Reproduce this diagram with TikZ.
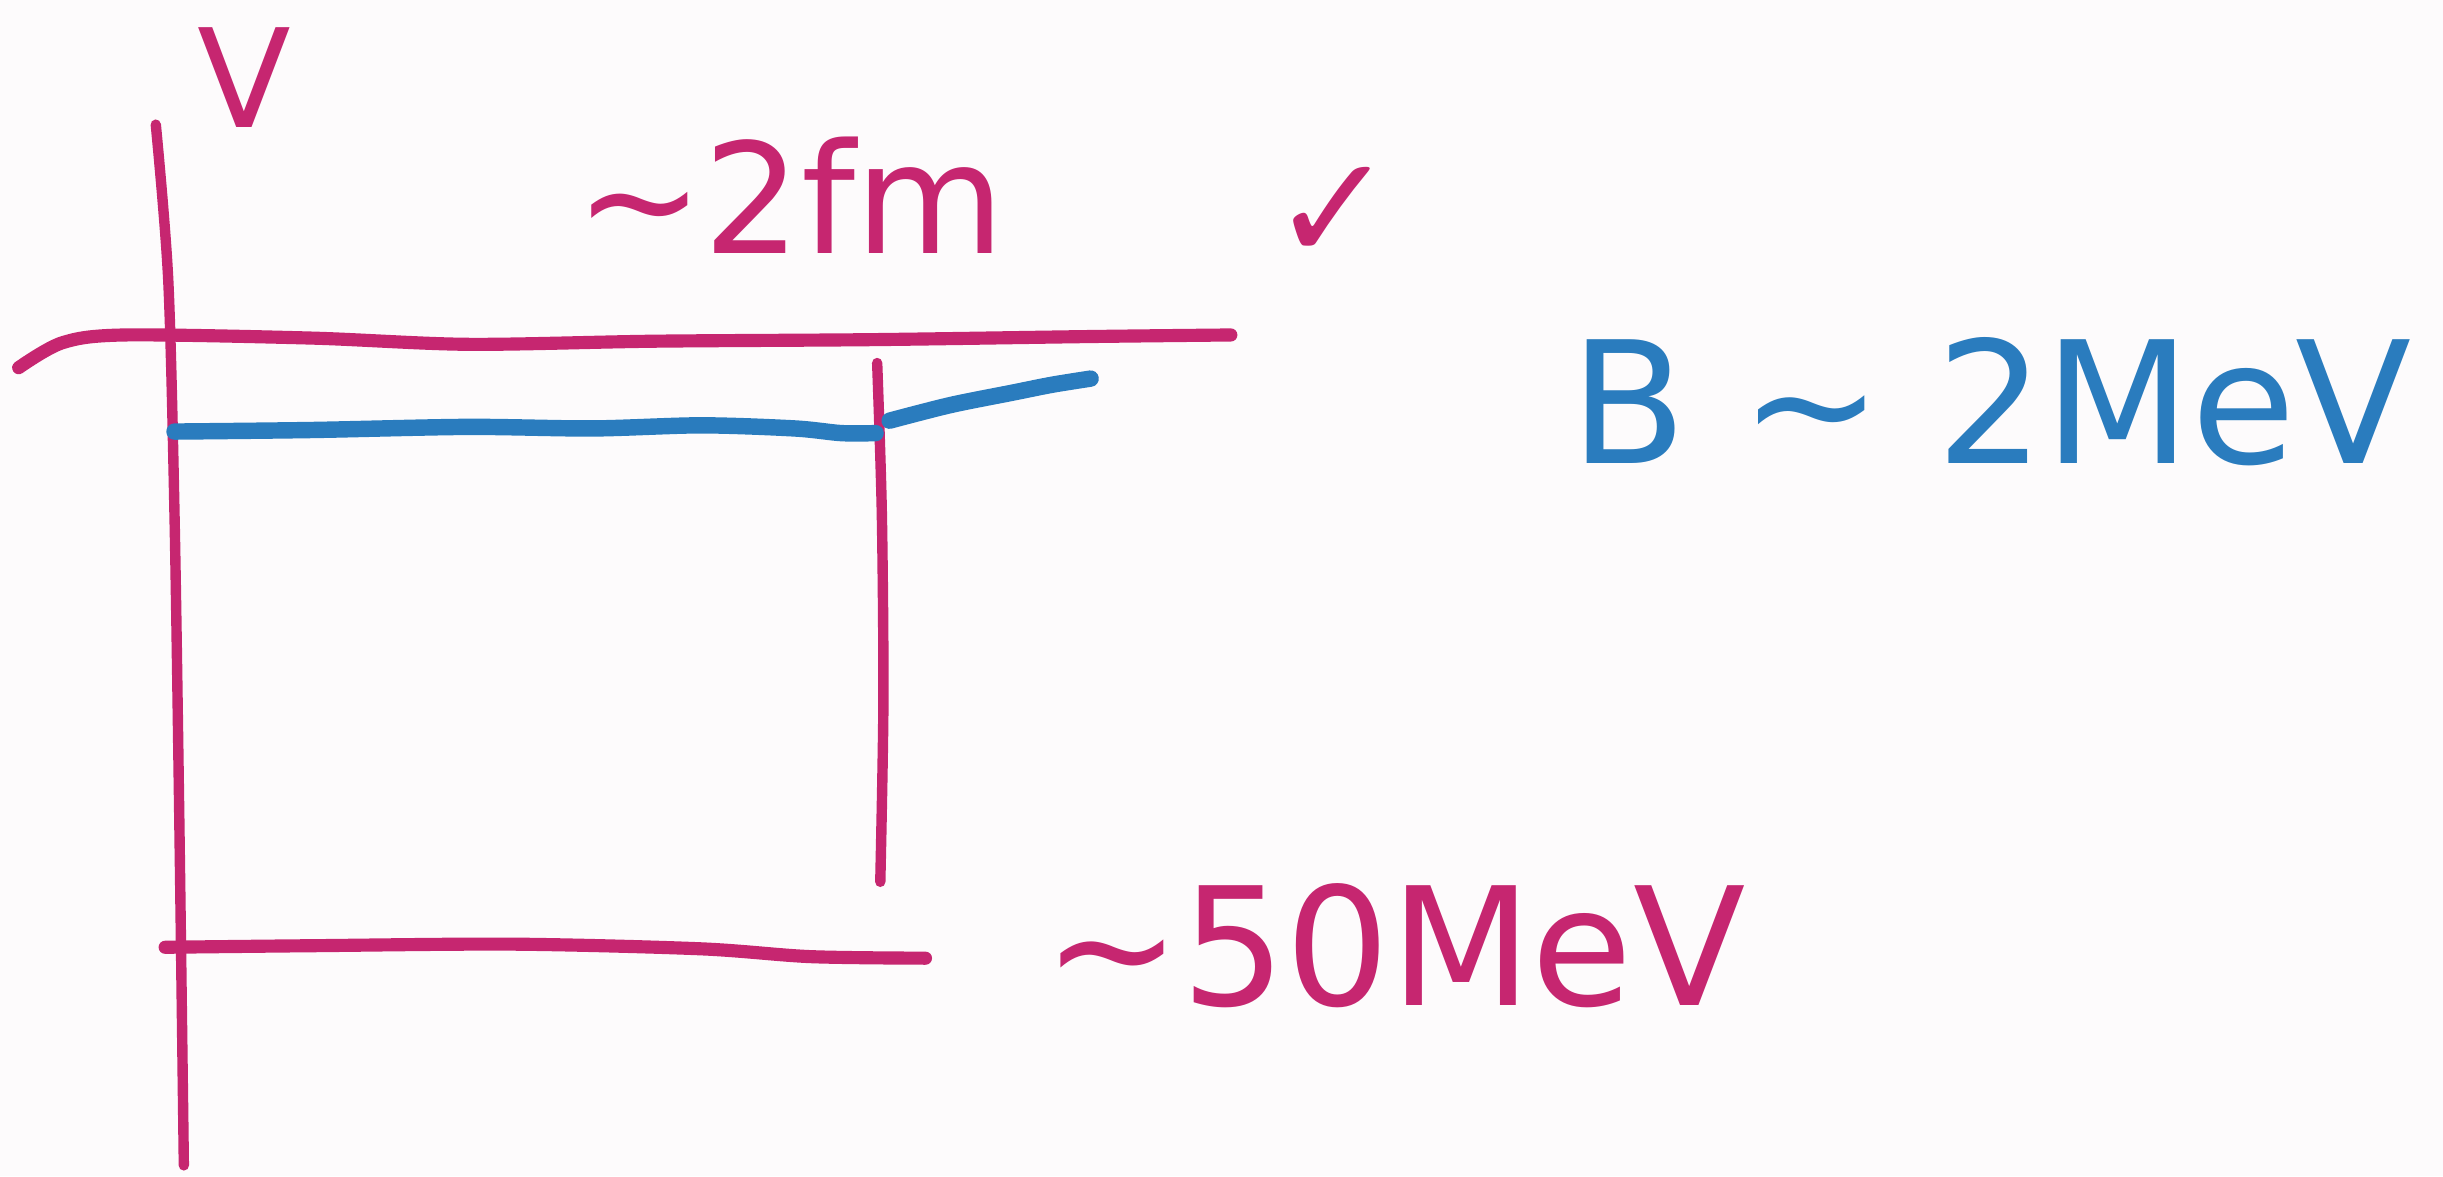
\documentclass[tikz,border=0pt]{standalone}
\usepackage{fontspec}
\setmainfont{DejaVu Sans}
\newfontfamily\symfont{DejaVu Sans}
\definecolor{pen}{RGB}{198,38,112}
\definecolor{bluepen}{RGB}{42,124,190}
\definecolor{paper}{RGB}{253,251,252}
\tikzset{
  redline/.style={draw=pen, line width=1.9pt, line cap=round, line join=round},
  blueline/.style={draw=bluepen, line width=3pt, line cap=round, line join=round},
  redtext/.style={text=pen, inner sep=0pt, anchor=center},
  bluetext/.style={text=bluepen, inner sep=0pt, anchor=center}
}
\begin{document}
\begin{tikzpicture}[x=0.01cm, y=-0.01cm]
\fill[paper] (0,0) rectangle (1568,755);
\useasboundingbox (0,0) rectangle (1568,755);
% vertical axis
\draw[redline] plot[smooth] coordinates {(100,80) (108,180) (112,330) (115,520) (118,748)};
% top horizontal line
\draw[redline, line width=2.4pt] plot[smooth] coordinates {(12,236) (40,220) (80,215) (200,217) (300,221) (420,219) (560,218) (700,216) (790,215)};
% right vertical line
\draw[redline] plot[smooth] coordinates {(563,233) (566,330) (567,450) (565,566)};
% bottom horizontal line
\draw[redline, line width=2.4pt] plot[smooth] coordinates {(106,608) (200,607) (330,606) (450,609) (520,614) (594,615)};
% blue level
\draw[blueline] plot[smooth] coordinates {(112,277) (200,276) (300,274) (380,275) (450,273) (510,275) (540,278) (562,278)};
\draw[blueline] plot[smooth] coordinates {(571,270) (610,260) (650,252) (675,247) (700,243)};
% labels
\node[redtext, font=\fontsize{25}{30}\selectfont] (vlabel) at (157,50) {V};
\node[redtext, font=\fontsize{28}{34}\selectfont] (width) at (507,125) {∼2fm};
\node[redtext, font=\symfont\fontsize{27}{32}\selectfont] (check) at (856,137) {✓};
\node[bluetext, font=\fontsize{31}{36}\selectfont] (binding) at (1278,258) {B ∼ 2MeV};
\node[redtext, font=\fontsize{30}{36}\selectfont] (depth) at (895,607) {∼50MeV};
\end{tikzpicture}
\end{document}
